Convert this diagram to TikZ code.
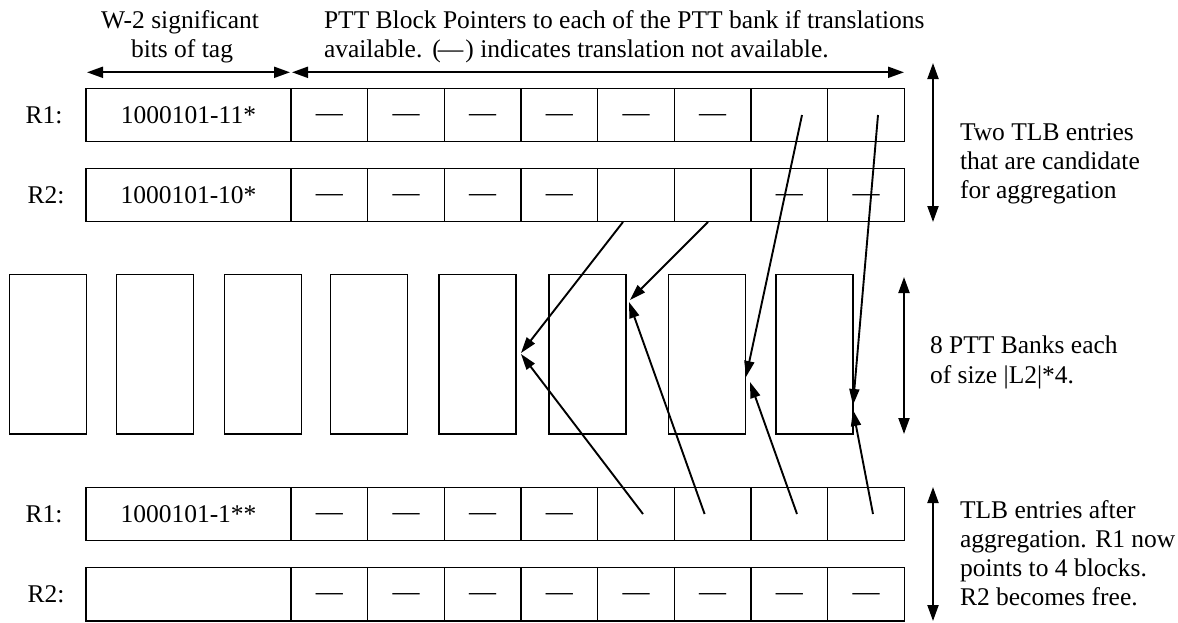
\documentclass[tikz,border=0pt]{standalone}
\usepackage{fontspec}
\setmainfont{Liberation Serif}
\usetikzlibrary{arrows.meta,calc}
\begin{document}
\begin{tikzpicture}[x=1pt,y=-1pt,
  every node/.style={font=\fontsize{25.5}{29}\selectfont, inner sep=0pt, outer sep=0pt},
  cellbox/.style={draw, line width=1.6pt, minimum width=76.67pt, minimum height=53.3pt},
  tagbox/.style={draw, line width=1.6pt, minimum width=205pt, minimum height=53.3pt},
  bank/.style={draw, line width=1.6pt, minimum width=77pt, minimum height=159.7pt},
  lbl/.style={anchor=base west},
  ptr/.style={line width=1.9pt, -{Triangle[length=16pt,width=10pt]}},
  span/.style={line width=2pt, {Triangle[length=16pt,width=11pt]}-{Triangle[length=16pt,width=11pt]}},
]
\useasboundingbox (0,0) rectangle (1178,622);

% header texts
\node[anchor=base] (h1) at (180,28) {W-2 significant};
\node[anchor=base] (h2) at (182,57) {bits of tag};
\node[lbl] (h3) at (324,28) {PTT Block Pointers to each of the PTT bank if translations};
\node[lbl] (h4) at (324,57) {available.\hspace{10pt}(\kern-3pt—\kern2pt) indicates translation not available.};
\coordinate (ha) at (87,72.3);
\coordinate (hb) at (290,72.3);
\coordinate (hc) at (292,72.3);
\coordinate (hd) at (904,72.3);
\draw[span] (ha) -- (hb);
\draw[span] (hc) -- (hd);

% TLB rows
\foreach \r/\y/\t in {a/115/1000101-11*, b/195/1000101-10*, c/514/1000101-1**, d/594.2/{}} {
  \node[tagbox] (\r-T) at (188.5,\y) {\t};
  \foreach \k in {1,...,8} {
    \node[cellbox] (\r-\k) at ({291+(\k-0.5)*76.67},\y) {};
  }
}
\node (la) at (44,115) {R1:};
\node (lb) at (46,195) {R2:};
\node (lc) at (44,514) {R1:};
\node (ld) at (46,594.2) {R2:};

% dashes (translation not available)
\foreach \r/\k in {a/1,a/2,a/3,a/4,a/5,a/6,b/1,b/2,b/3,b/4,b/7,b/8,c/1,c/2,c/3,c/4,d/1,d/2,d/3,d/4,d/5,d/6,d/7,d/8} {
  \node[anchor=base, font=\fontsize{27}{29}\selectfont] (\r-dash-\k) at ($(\r-\k.center)+(0,6)$) {—};
}

% PTT banks
\foreach \i/\x in {1/48,2/155,3/263,4/369,5/477.5,6/587.5,7/707.1,8/814.5} {
  \node[bank] (bank\i) at (\x,354.15) {};
}

% pointer arrows
\coordinate (s1) at (802,115);
\coordinate (s2) at (878,115);
\coordinate (s3) at (623,222);
\coordinate (s4) at (708,222);
\coordinate (e1) at (746,377);
\coordinate (e2) at (853,405);
\coordinate (e3) at (521,353);
\coordinate (e4) at (630,300);
\draw[ptr] (s1) -- (e1);
\draw[ptr] (s2) -- (e2);
\draw[ptr] (s3) -- (e3);
\draw[ptr] (s4) -- (e4);
\coordinate (u1) at (643,514);
\coordinate (u2) at (704.6,514);
\coordinate (u3) at (797,514);
\coordinate (u4) at (873,514);
\coordinate (f1) at (521,354);
\coordinate (f2) at (629,302);
\coordinate (f3) at (750,382);
\coordinate (f4) at (853,410);
\draw[ptr] (u1) -- (f1);
\draw[ptr] (u2) -- (f2);
\draw[ptr] (u3) -- (f3);
\draw[ptr] (u4) -- (f4);

% right-hand annotations
\coordinate (ra1) at (933,63);
\coordinate (ra2) at (933,222);
\draw[span] (ra1) -- (ra2);
\node[lbl] (t1) at (960,140) {Two TLB entries};
\node[lbl] (t2) at (960,169) {that are candidate};
\node[lbl] (t3) at (960,198) {for aggregation};

\coordinate (rb1) at (904,277);
\coordinate (rb2) at (904,434);
\draw[span] (rb1) -- (rb2);
\node[lbl] (t4) at (930,353) {8 PTT Banks each};
\node[lbl] (t5) at (930,383) {of size |L2|*4.};

\coordinate (rc1) at (933,487);
\coordinate (rc2) at (933,621);
\draw[span] (rc1) -- (rc2);
\node[lbl] (t6) at (960,518) {TLB entries after};
\node[lbl] (t7) at (960,547) {aggregation. R1 now};
\node[lbl] (t8) at (960,576) {points to 4 blocks.};
\node[lbl] (t9) at (960,605) {R2 becomes free.};
\end{tikzpicture}
\end{document}
